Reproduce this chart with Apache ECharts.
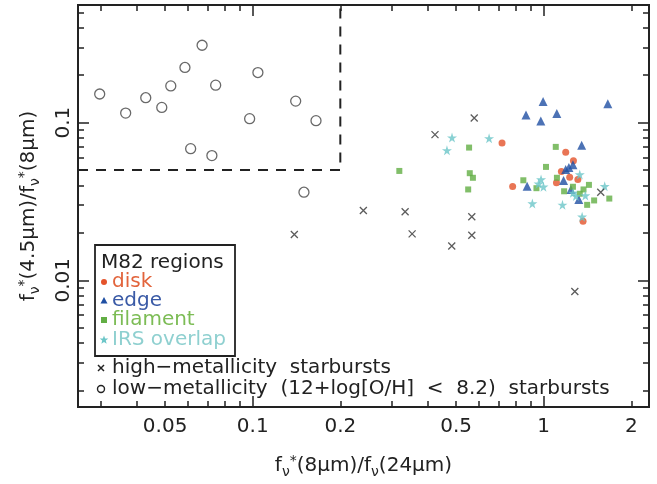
<!DOCTYPE html>
<html>
<head>
<meta charset="utf-8">
<script src="https://cdn.jsdelivr.net/npm/echarts@6/dist/echarts.min.js"></script>
<style>html,body{margin:0;padding:0;background:#fff}#c{width:657px;height:484px}</style>
</head>
<body>
<div id="c"></div>
<script>
// ---- data (x = f*(8um)/f(24um), y = f*(4.5um)/f*(8um)) ----
const lowMetal = [[0.0298,0.152],[0.0366,0.115],[0.0429,0.144],[0.0487,0.125],[0.0523,0.171],[0.0585,0.224],[0.0670,0.310],[0.0746,0.173],[0.0612,0.0684],[0.0724,0.0618],[0.0976,0.106],[0.1042,0.208],[0.1405,0.137],[0.165,0.103],[0.150,0.0362]];
const highMetal = [[0.139,0.0195],[0.240,0.0277],[0.334,0.0272],[0.353,0.0197],[0.483,0.0165],[0.566,0.0253],[0.566,0.0193],[0.423,0.0840],[0.577,0.107],[1.279,0.00848],[1.57,0.0362]];
const edge = [[0.995,0.136],[0.869,0.112],[0.977,0.1025],[1.109,0.1145],[1.66,0.132],[1.35,0.0718],[1.19,0.0504],[1.26,0.054],[1.17,0.043],[0.877,0.0395],[1.24,0.0377],[1.32,0.0326],[1.22,0.052]];
const disk = [[0.719,0.0743],[1.19,0.0649],[1.265,0.0574],[0.782,0.0394],[1.106,0.0415],[1.228,0.0451],[1.31,0.0436],[1.365,0.0237],[1.15,0.049]];
const filament = [[0.319,0.0494],[0.554,0.0695],[0.557,0.0478],[0.571,0.0447],[0.550,0.0377],[1.10,0.0702],[1.018,0.0524],[0.851,0.0431],[0.944,0.0384],[1.11,0.0447],[1.175,0.0367],[1.26,0.0392],[1.37,0.0377],[1.43,0.0403],[1.49,0.0321],[1.41,0.0301],[1.68,0.0330],[1.33,0.0354]];
const irsOverlap = [[0.484,0.0804],[0.465,0.0668],[0.649,0.0796],[0.979,0.0436],[0.998,0.0392],[0.914,0.0307],[1.16,0.0301],[1.33,0.0469],[1.26,0.0359],[1.29,0.0342],[1.39,0.0345],[1.62,0.0395],[1.355,0.0253],[0.96,0.041]];
const lowZBoxX = 0.2, lowZBoxY = 0.05;

const xRange = [0.0251, 2.30];
const yRange = [0.00157, 0.558];
const xTickLabels = [0.05, 0.1, 0.2, 0.5, 1, 2];
const xMinorTicks = [0.03,0.04,0.05,0.06,0.07,0.08,0.09,0.2,0.3,0.4,0.5,0.6,0.7,0.8,0.9,2];
const xMajorTicks = [0.1, 1];
const yTickLabels = [0.01, 0.1];
const yMinorTicks = [0.002,0.003,0.004,0.005,0.006,0.007,0.008,0.009,0.02,0.03,0.04,0.05,0.06,0.07,0.08,0.09,0.2,0.3,0.4,0.5];
const yMajorTicks = [0.01, 0.1];

const FONT = 'DejaVu Sans';
const INK = '#222';
const C = {disk:'#e4532b', edge:'#1f4fa3', filament:'#62ae44', irs:'#6cc6c8'};
const CT = {disk:'#e2643c', edge:'#3a5aa6', filament:'#7cbc55', irs:'#8fd0d0'};
const STAR = 'path://M50,0L61,35L98,35L68,57L79,91L50,70L21,91L32,57L2,35L39,35Z';
const CROSS = 'path://M0,0L10,10M10,0L0,10';

function nearestLabel(arr, v){ let b=arr[0]; for(const a of arr){ if(Math.abs(Math.log(a/v))<Math.abs(Math.log(b/v))) b=a; } return String(b); }

const RICH = {s:{fontFamily:FONT, fontSize:14, padding:[12,0,0,0], color:INK}, p:{fontFamily:FONT, fontSize:14, padding:[0,0,10,0], color:INK}, t:{fontFamily:FONT, fontSize:20, color:INK}};

function xAxisDef(pos, ticks, len, labels, name){
  return {
    type:'log', logBase:10, min:xRange[0], max:xRange[1], position:pos, gridIndex:0,
    axisLine:{show:true, lineStyle:{color:INK, width:1.8}},
    axisTick:{show:true, inside:true, length:len, customValues:ticks, lineStyle:{color:INK, width:1.5}},
    axisLabel:{show:!!labels, customValues:labels||[], color:INK, fontFamily:FONT, fontSize:20, margin:10,
      formatter:(v)=>nearestLabel(xTickLabels, v)},
    splitLine:{show:false}, minorTick:{show:false},
    name: name||'', nameLocation:'middle', nameGap:46,
    nameTextStyle:{color:INK, fontFamily:FONT, fontSize:20, rich:RICH}
  };
}
function yAxisDef(pos, ticks, len, labels, name){
  return {
    type:'log', logBase:10, min:yRange[0], max:yRange[1], position:pos, gridIndex:0,
    axisLine:{show:true, lineStyle:{color:INK, width:1.8}},
    axisTick:{show:true, inside:true, length:len, customValues:ticks, lineStyle:{color:INK, width:1.5}},
    axisLabel:{show:!!labels, customValues:labels||[], color:INK, fontFamily:FONT, fontSize:20, margin:4, rotate:90,
      formatter:(v)=>nearestLabel(yTickLabels, v)},
    splitLine:{show:false}, minorTick:{show:false},
    name: name||'', nameLocation:'middle', nameGap:36, nameRotate:90,
    nameTextStyle:{color:INK, fontFamily:FONT, fontSize:20, rich:RICH}
  };
}

const xName = '{t|f}{s|ν}{p|*}{t|(8μm)/f}{s|ν}{t|(24μm)}';
const yName = '{t|f}{s|ν}{p|*}{t|(4.5μm)/f}{s|ν}{p|*}{t|(8μm)}';

// legend graphics
const LX = 95, LY = 245, LW = 140, LH = 111;
function starPts(cx, cy, R){ const pts=[]; for(let i=0;i<10;i++){ const r = i%2===0?R:R*0.42; const a = -Math.PI/2 + i*Math.PI/5; pts.push([cx+r*Math.cos(a), cy+r*Math.sin(a)]);} return pts; }
const legendText = (x,y,t,col)=>({type:'text', x:x, y:y, style:{text:t, fill:col, font:'20px "DejaVu Sans"', textVerticalAlign:'middle'}});
const graphic = [
  {type:'rect', shape:{x:LX, y:LY, width:LW, height:LH}, style:{fill:'#fff', stroke:INK, lineWidth:1.8}, z:10},
  Object.assign(legendText(101, 263, 'M82 regions', INK), {z:11}),
  {type:'circle', shape:{cx:104, cy:282, r:3}, style:{fill:C.disk}, z:11},
  Object.assign(legendText(112, 282, 'disk', CT.disk), {z:11}),
  {type:'polygon', shape:{points:[[104,297],[100.5,303.5],[107.5,303.5]]}, style:{fill:C.edge}, z:11},
  Object.assign(legendText(112, 301, 'edge', CT.edge), {z:11}),
  {type:'rect', shape:{x:101, y:317, width:6, height:6}, style:{fill:C.filament}, z:11},
  Object.assign(legendText(112, 320, 'filament', CT.filament), {z:11}),
  {type:'polygon', shape:{points:starPts(104, 340, 4.5)}, style:{fill:C.irs}, z:11},
  Object.assign(legendText(112, 340, 'IRS overlap', CT.irs), {z:11}),
  {type:'line', shape:{x1:98, y1:365, x2:104, y2:371}, style:{stroke:INK, lineWidth:1.5}, z:11},
  {type:'line', shape:{x1:104, y1:365, x2:98, y2:371}, style:{stroke:INK, lineWidth:1.5}, z:11},
  Object.assign(legendText(112, 368, 'high−metallicity  starbursts', INK), {z:11}),
  {type:'circle', shape:{cx:101, cy:389, r:3.5}, style:{fill:'#fff', stroke:INK, lineWidth:1.4}, z:11},
  Object.assign(legendText(112, 389, 'low−metallicity  (12+log[O/H]  <  8.2)  starbursts', INK), {z:11})
];

const chart = echarts.init(document.getElementById('c'), null, {renderer:'canvas'});
chart.setOption({
  animation:false,
  backgroundColor:'#fff',
  grid:{left:78, right:8, top:5, bottom:76, containLabel:false},
  xAxis:[
    xAxisDef('bottom', xMinorTicks, 6, xTickLabels, xName),
    xAxisDef('bottom', xMajorTicks, 11),
    xAxisDef('top', xMinorTicks, 6),
    xAxisDef('top', xMajorTicks, 11)
  ],
  yAxis:[
    yAxisDef('left', yMinorTicks, 6, yTickLabels, yName),
    yAxisDef('left', yMajorTicks, 11),
    yAxisDef('right', yMinorTicks, 6),
    yAxisDef('right', yMajorTicks, 11)
  ],
  series:[
    {type:'line', data:[[xRange[0], lowZBoxY],[lowZBoxX, lowZBoxY],[lowZBoxX, yRange[1]]], symbol:'none', silent:true,
      lineStyle:{color:INK, width:2, type:[10,8]}, z:2},
    {type:'scatter', name:'low-metallicity', data:lowMetal, symbol:'circle', symbolSize:10,
      itemStyle:{color:'#fff', borderColor:'#444', borderWidth:1.3}, z:3},
    {type:'scatter', name:'disk', data:disk, symbol:'circle', symbolSize:7, itemStyle:{color:C.disk}, z:4},
    {type:'scatter', name:'edge', data:edge, symbol:'triangle', symbolSize:9, itemStyle:{color:C.edge}, z:4},
    {type:'scatter', name:'filament', data:filament, symbol:'rect', symbolSize:6, itemStyle:{color:C.filament}, z:4},
    {type:'scatter', name:'IRS overlap', data:irsOverlap, symbol:STAR, symbolSize:10, itemStyle:{color:C.irs}, z:4},
    {type:'scatter', name:'high-metallicity', data:highMetal, symbol:CROSS, symbolSize:7,
      itemStyle:{color:'rgba(0,0,0,0)', borderColor:'#333', borderWidth:1.3}, z:5}
  ],
  graphic: graphic
});
</script>
</body>
</html>
